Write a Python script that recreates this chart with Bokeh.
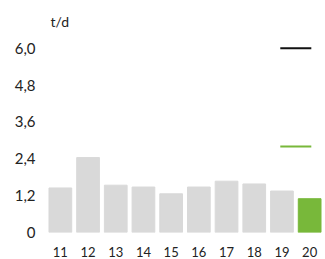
from bokeh.plotting import figure
from bokeh.models import ColumnDataSource, FactorRange, Range1d, FixedTicker
from bokeh.transform import dodge
from bokeh.embed import file_html
from bokeh.resources import INLINE

categories = ["11", "12", "13", "14", "15", "16", "17", "18", "19", "20"]
values = [1.45, 2.44, 1.54, 1.48, 1.26, 1.48, 1.67, 1.58, 1.35, 1.10]
ytick_values = [0, 1.2, 2.4, 3.6, 4.8, 6.0]
ytick_labels = ["0", "1,2", "2,4", "3,6", "4,8", "6,0"]
unit_label = "t/d"
black_ref = 6.0
green_ref = 2.8

GRAY = "#d9d9d9"
GREEN = "#78b83a"
TEXT = "#222222"
FONT = "Lato"

colors = [GRAY] * (len(categories) - 1) + [GREEN]

p = figure(
    width=325, height=259,
    x_range=FactorRange(*categories, range_padding=0),
    y_range=Range1d(0, 6.51),
    output_backend="svg", toolbar_location=None,
    min_border_left=46, min_border_right=2,
    min_border_top=32, min_border_bottom=23,
    title=unit_label,
)

src = ColumnDataSource(dict(x=categories, top=values, color=colors))
p.vbar(x="x", top="top", width=0.82, color="color", source=src)

ref = ColumnDataSource(dict(x0=["19", "19"], x1=["20", "20"],
                            y=[black_ref, green_ref], c=["#111111", GREEN]))
p.segment(x0=dodge("x0", -0.06, range=p.x_range), x1=dodge("x1", 0.06, range=p.x_range),
          y0="y", y1="y", line_color="c", line_width=2, source=ref)

p.title.align = "left"
p.title.offset = 4
p.title.standoff = 6
p.title.text_font = FONT
p.title.text_font_size = "14px"
p.title.text_font_style = "normal"
p.title.text_color = TEXT

p.yaxis.ticker = FixedTicker(ticks=ytick_values)
p.yaxis.major_label_overrides = {v: t for v, t in zip(ytick_values, ytick_labels)}
p.yaxis.axis_line_color = None
p.yaxis.major_tick_line_color = None
p.yaxis.minor_tick_line_color = None
p.yaxis.major_label_standoff = 5
p.yaxis.major_label_text_font = FONT
p.yaxis.major_label_text_font_size = "15px"
p.yaxis.major_label_text_color = TEXT

p.xaxis.axis_line_color = None
p.xaxis.major_tick_line_color = None
p.xaxis.minor_tick_line_color = None
p.xaxis.major_label_standoff = 8
p.xaxis.major_label_text_font = FONT
p.xaxis.major_label_text_font_size = "13px"
p.xaxis.major_label_text_color = TEXT
p.grid.visible = False
p.outline_line_color = None

open("out.html", "w").write(file_html(p, INLINE))
